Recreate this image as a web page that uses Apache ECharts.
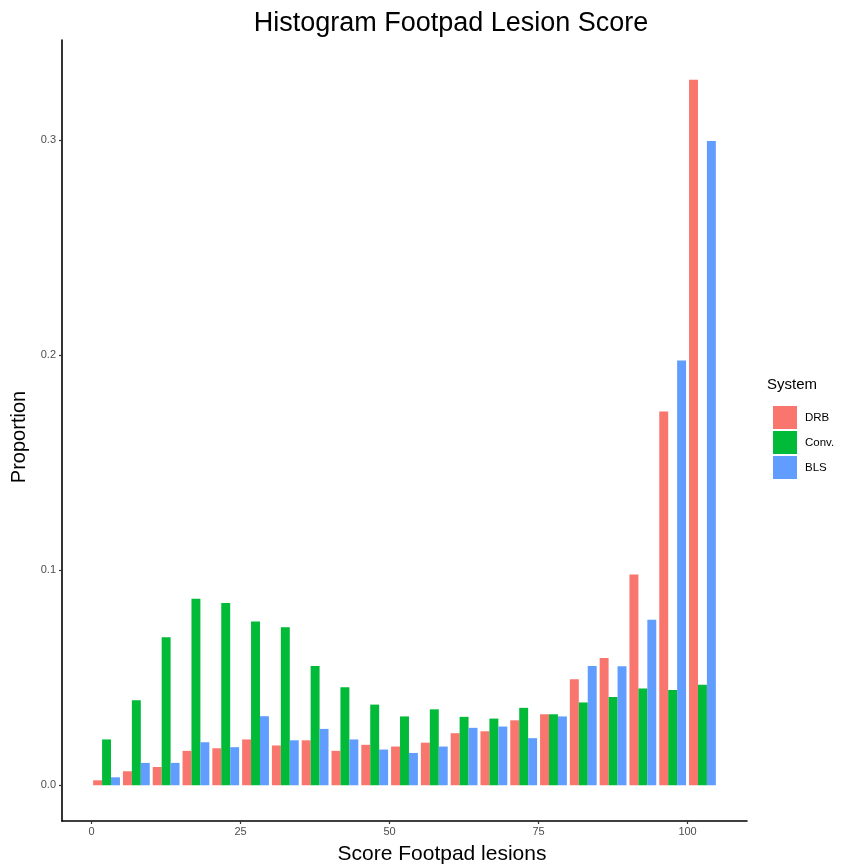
<!DOCTYPE html>
<html><head><meta charset="utf-8">
<script src="https://cdn.jsdelivr.net/npm/echarts@6/dist/echarts.min.js"></script>
<style>html,body{margin:0;padding:0;background:#fff}#c{width:843px;height:867px}</style>
</head><body><div id="c"></div>
<script>
// Histogram bins (left edges) and bin width
const binStarts = [0,5,10,15,20,25,30,35,40,45,50,55,60,65,70,75,80,85,90,95,100];
const binWidth = 5;
// Proportions per system
const drb  = [0.0023,0.0065,0.0085,0.0160,0.0172,0.0213,0.0185,0.0209,0.0160,0.0188,0.0180,0.0198,0.0242,0.0251,0.0302,0.0330,0.0493,0.0592,0.0980,0.1738,0.3280];
const conv = [0.0213,0.0395,0.0688,0.0867,0.0847,0.0761,0.0735,0.0555,0.0456,0.0375,0.0320,0.0353,0.0318,0.0310,0.0360,0.0330,0.0385,0.0410,0.0450,0.0443,0.0467];
const bls  = [0.0037,0.0104,0.0104,0.0200,0.0177,0.0321,0.0209,0.0262,0.0213,0.0166,0.0150,0.0180,0.0267,0.0273,0.0219,0.0320,0.0555,0.0553,0.0770,0.1975,0.2995];
const seriesNames = ['DRB','Conv.','BLS'];
const seriesValues = [drb, conv, bls];
const colors = ['#F8766D','#00BA38','#619CFF'];
const xTicks = [0,25,50,75,100];
const yTicks = [0,0.1,0.2,0.3];

const FONT = '"Liberation Sans", Arial, sans-serif';

function makeRender(k){
  return function(params, api){
    const start = api.value(0), v = api.value(1);
    const x0 = start + binWidth*0.05 + k*binWidth*0.3;
    const x1 = x0 + binWidth*0.3;
    const p0 = api.coord([x0, v]);
    const p1 = api.coord([x1, 0]);
    return {type:'rect', shape:{x:p0[0], y:p0[1], width:p1[0]-p0[0], height:p1[1]-p0[1]},
            style:{fill: api.visual('color')}};
  };
}

const chart = echarts.init(document.getElementById('c'), null, {renderer:'canvas'});
chart.setOption({
  backgroundColor:'#fff',
  animation:false,
  grid:{left:62, right:96, top:40, bottom:46, containLabel:false},
  xAxis:{type:'value', min:-4.975, max:109.975,
    splitLine:{show:false},
    axisLine:{show:true, onZero:false, lineStyle:{color:'#000', width:1.6}},
    axisTick:{show:true, length:3, customValues:xTicks, lineStyle:{color:'#333', width:1.2}},
    axisLabel:{show:true, customValues:xTicks, margin:5, color:'#4D4D4D', fontSize:11, fontFamily:FONT}
  },
  yAxis:{type:'value', min:-0.01662, max:0.3465,
    splitLine:{show:false},
    axisLine:{show:true, onZero:false, lineStyle:{color:'#000', width:1.6}},
    axisTick:{show:true, length:3, customValues:yTicks, lineStyle:{color:'#333', width:1.2}},
    axisLabel:{show:true, customValues:yTicks, margin:6, color:'#4D4D4D', fontSize:11, fontFamily:FONT,
      formatter:v=>v.toFixed(1)}
  },
  legend:{orient:'vertical', left:773, top:406, padding:0, itemWidth:24, itemHeight:23, itemGap:2,
    icon:'rect', data:seriesNames,
    textStyle:{fontSize:11.5, color:'#000', fontFamily:FONT, padding:[0,0,0,3]}},
  graphic:[
    {type:'text', x:451, y:24, style:{text:'Histogram Footpad Lesion Score', fontSize:27, fontFamily:FONT, fill:'#000', align:'center', verticalAlign:'middle'}},
    {type:'text', x:442, y:854, style:{text:'Score Footpad lesions', fontSize:21, fontFamily:FONT, fill:'#000', align:'center', verticalAlign:'middle'}},
    {type:'text', x:19, y:437, rotation:Math.PI/2, style:{text:'Proportion', fontSize:20, fontFamily:FONT, fill:'#000', align:'center', verticalAlign:'middle'}},
    {type:'text', x:767, y:385, style:{text:'System', fontSize:15, fontFamily:FONT, fill:'#000', align:'left', verticalAlign:'middle'}}
  ],
  series: seriesNames.map((name,k)=>({
    name, type:'custom', renderItem:makeRender(k),
    itemStyle:{color:colors[k]},
    encode:{x:0, y:1},
    data: binStarts.map((b,i)=>[b, seriesValues[k][i]])
  }))
});
</script></body></html>
